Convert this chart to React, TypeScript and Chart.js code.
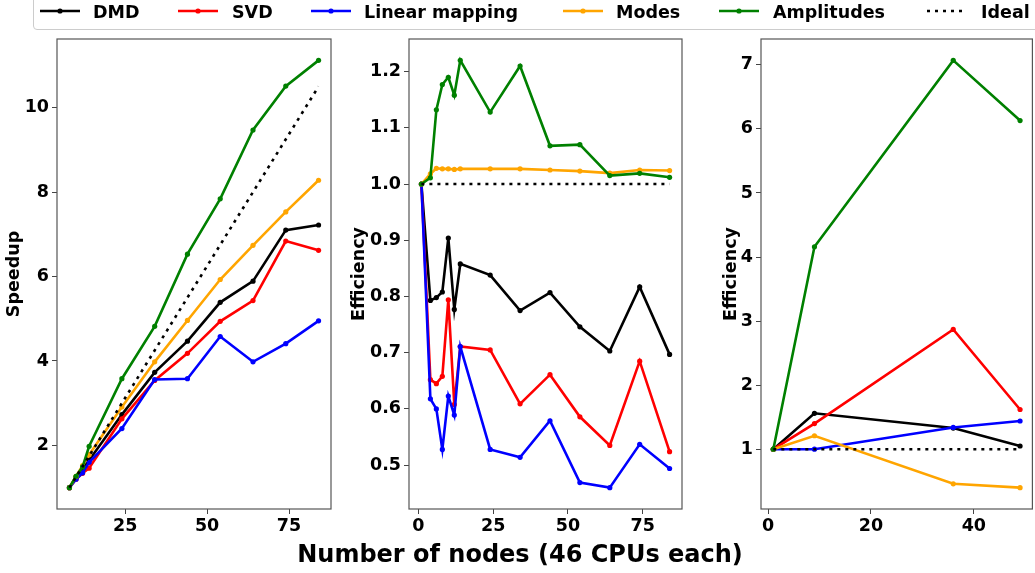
import React, { useEffect, useRef } from "react";
import { Chart, registerables } from "chart.js";

Chart.register(...registerables);

const FONT = "'DejaVu Sans', 'Liberation Sans', sans-serif";

const seriesNames = ["DMD", "SVD", "Linear mapping", "Modes", "Amplitudes"];
const seriesColors = ["#000000", "#ff0000", "#0000ff", "#ffa500", "#008000"];

// Panel 1: speedup
const speedupNodes = [8, 10, 12, 14, 24, 34, 44, 54, 64, 74, 84];
const speedupDMD = [1, 1.25, 1.45, 1.65, 2.73, 3.73, 4.47, 5.39, 5.89, 7.1, 7.22];
const speedupSVD = [1, 1.2, 1.34, 1.46, 2.63, 3.54, 4.18, 4.94, 5.43, 6.84, 6.62];
const speedupLinear = [1, 1.2, 1.35, 1.6, 2.4, 3.56, 3.58, 4.58, 3.98, 4.41, 4.95];
const speedupModes = [1, 1.27, 1.52, 1.78, 2.91, 3.98, 4.96, 5.93, 6.74, 7.53, 8.28];
const speedupAmplitudes = [1, 1.27, 1.49, 1.98, 3.58, 4.82, 6.53, 7.84, 9.47, 10.51, 11.12];
const speedupIdealNodes = [8, 84];
const speedupIdeal = [1, 10.5];
const speedupXTicks = [25, 50, 75];
const speedupYTicks = [2, 4, 6, 8, 10];

// Panel 2: efficiency
const effNodes = [1, 4, 6, 8, 10, 12, 14, 24, 34, 44, 54, 64, 74, 84];
const effDMD = [1, 0.793, 0.798, 0.808, 0.904, 0.777, 0.858, 0.838, 0.775, 0.807, 0.746, 0.703, 0.817, 0.697];
const effSVD = [1, 0.652, 0.645, 0.658, 0.794, 0.608, 0.711, 0.705, 0.609, 0.661, 0.586, 0.535, 0.685, 0.524];
const effLinear = [1, 0.618, 0.6, 0.528, 0.623, 0.589, 0.711, 0.528, 0.514, 0.579, 0.469, 0.46, 0.537, 0.494];
const effModes = [1, 1.018, 1.028, 1.027, 1.027, 1.026, 1.027, 1.027, 1.027, 1.025, 1.023, 1.0195, 1.025, 1.024];
const effAmplitudes = [1, 1.011, 1.132, 1.177, 1.19, 1.158, 1.22, 1.128, 1.21, 1.068, 1.07, 1.015, 1.019, 1.012];
const effIdealNodes = [1, 84];
const effIdeal = [1, 1];
const effXTicks = [0, 25, 50, 75];
const effYTicks = [0.5, 0.6, 0.7, 0.8, 0.9, 1.0, 1.1, 1.2];

// Panel 3: efficiency (second set)
const eff3Nodes = [1, 9, 36, 49];
const eff3DMD = [1, 1.56, 1.33, 1.05];
const eff3SVD = [1, 1.4, 2.87, 1.62];
const eff3Linear = [1, 1.0, 1.34, 1.44];
const eff3Modes = [1, 1.21, 0.46, 0.4];
const eff3Amplitudes = [1, 4.16, 7.07, 6.13];
const eff3IdealNodes = [1, 49];
const eff3Ideal = [1, 1];
const eff3XTicks = [0, 20, 40];
const eff3YTicks = [1, 2, 3, 4, 5, 6, 7];

const xLabel = "Number of nodes (46 CPUs each)";

function padRange(vals: number[]): [number, number] {
  const lo = Math.min(...vals);
  const hi = Math.max(...vals);
  const m = (hi - lo) * 0.05;
  return [lo - m, hi + m];
}

const framePlugin = {
  id: "frame",
  afterDatasetsDraw(chart: any) {
    const { ctx, chartArea } = chart;
    const { left, top, right, bottom } = chartArea;
    ctx.save();
    ctx.strokeStyle = "#555555";
    ctx.lineWidth = 1.2;
    ctx.strokeRect(left, top, right - left, bottom - top);
    ctx.restore();
  },
};

type PanelProps = {
  left: number;
  width: number;
  yAxisWidth: number;
  padRight: number;
  yTitle: string;
  nodes: number[];
  series: number[][];
  idealX: number[];
  idealY: number[];
  xTicks: number[];
  yTicks: number[];
  yDecimals: number;
};

function Panel(p: PanelProps) {
  const ref = useRef<HTMLCanvasElement>(null);
  useEffect(() => {
    if (!ref.current) return;
    const [xmin, xmax] = padRange([...p.nodes, ...p.idealX]);
    const [ymin, ymax] = padRange([...p.series.flat(), ...p.idealY]);
    const datasets: any[] = p.series.map((vals, i) => ({
      label: seriesNames[i],
      data: p.nodes.map((x, j) => ({ x, y: vals[j] })),
      borderColor: seriesColors[i],
      backgroundColor: seriesColors[i],
      borderWidth: 2.6,
      pointRadius: 2.6,
      pointHoverRadius: 2.6,
      pointBorderWidth: 0,
      tension: 0,
      order: 10 - i,
    }));
    datasets.push({
      label: "Ideal",
      data: p.idealX.map((x, j) => ({ x, y: p.idealY[j] })),
      borderColor: "#000000",
      backgroundColor: "#000000",
      borderWidth: 2.6,
      borderDash: [3, 5],
      pointRadius: 0,
      tension: 0,
      order: 0,
    });
    const tickFont = { family: FONT, size: 17.5, weight: "bold" as const };
    const grid = {
      display: true,
      drawOnChartArea: false,
      drawTicks: true,
      tickLength: 5,
      color: "#444444",
      lineWidth: 1,
    };
    const chart = new Chart(ref.current, {
      type: "line",
      data: { datasets },
      options: {
        animation: false,
        responsive: false,
        maintainAspectRatio: false,
        layout: { padding: { top: 39, right: p.padRight, left: 0, bottom: 0 } },
        plugins: { legend: { display: false }, tooltip: { enabled: false } },
        scales: {
          x: {
            type: "linear",
            min: xmin,
            max: xmax,
            afterBuildTicks: (s: any) => {
              s.ticks = p.xTicks.map((v) => ({ value: v }));
            },
            afterFit: (s: any) => {
              s.height = 64;
            },
            grid,
            border: { display: false },
            ticks: {
              font: tickFont,
              color: "#000000",
              padding: 2,
              maxRotation: 0,
              autoSkip: false,
              callback: (v: any) => String(v),
            },
          },
          y: {
            type: "linear",
            min: ymin,
            max: ymax,
            afterBuildTicks: (s: any) => {
              s.ticks = p.yTicks.map((v) => ({ value: v }));
            },
            afterFit: (s: any) => {
              s.width = p.yAxisWidth;
            },
            grid,
            border: { display: false },
            title: {
              display: true,
              text: p.yTitle,
              color: "#000000",
              font: tickFont,
              padding: { top: 4, bottom: 4 },
            },
            ticks: {
              font: tickFont,
              color: "#000000",
              padding: 3,
              autoSkip: false,
              callback: (v: any) => Number(v).toFixed(p.yDecimals),
            },
          },
        },
      },
      plugins: [framePlugin],
    });
    return () => chart.destroy();
  }, []);
  return (
    <canvas
      ref={ref}
      width={p.width}
      height={573}
      style={{ position: "absolute", left: p.left, top: 0, width: p.width, height: 573 }}
    />
  );
}

const legendItems = [
  { name: "DMD", color: "#000000", lineX: 40, textX: 93, dotted: false },
  { name: "SVD", color: "#ff0000", lineX: 178, textX: 232, dotted: false },
  { name: "Linear mapping", color: "#0000ff", lineX: 311, textX: 364, dotted: false },
  { name: "Modes", color: "#ffa500", lineX: 563, textX: 616, dotted: false },
  { name: "Amplitudes", color: "#008000", lineX: 719, textX: 773, dotted: false },
  { name: "Ideal", color: "#000000", lineX: 927, textX: 981, dotted: true },
];

function Legend() {
  return (
    <div>
      <div
        style={{
          position: "absolute",
          left: 33,
          top: -8,
          width: 1020,
          height: 36,
          border: "1px solid #cccccc",
          borderRadius: 4,
          background: "rgba(255,255,255,0.8)",
        }}
      />
      {legendItems.map((it) => (
        <React.Fragment key={it.name}>
          <svg
            width={40}
            height={10}
            style={{ position: "absolute", left: it.lineX, top: 6 }}
          >
            <line
              x1={0}
              y1={5}
              x2={40}
              y2={5}
              stroke={it.color}
              strokeWidth={2.6}
              strokeDasharray={it.dotted ? "3 5" : undefined}
            />
            {!it.dotted && <circle cx={20} cy={5} r={2.6} fill={it.color} />}
          </svg>
          <span
            style={{
              position: "absolute",
              left: it.textX,
              top: 0,
              lineHeight: "24px",
              fontSize: 17.5,
              fontWeight: "bold",
              fontFamily: FONT,
              color: "#000",
              whiteSpace: "nowrap",
            }}
          >
            {it.name}
          </span>
        </React.Fragment>
      ))}
    </div>
  );
}

export default function App() {
  return (
    <div
      style={{
        position: "fixed",
        left: 0,
        top: 0,
        width: 1035,
        height: 573,
        background: "#ffffff",
        overflow: "hidden",
        fontFamily: FONT,
      }}
    >
      <Panel
        left={0}
        width={345}
        yAxisWidth={57}
        padRight={14}
        yTitle="Speedup"
        nodes={speedupNodes}
        series={[speedupDMD, speedupSVD, speedupLinear, speedupModes, speedupAmplitudes]}
        idealX={speedupIdealNodes}
        idealY={speedupIdeal}
        xTicks={speedupXTicks}
        yTicks={speedupYTicks}
        yDecimals={0}
      />
      <Panel
        left={345}
        width={355}
        yAxisWidth={64}
        padRight={18}
        yTitle="Efficiency"
        nodes={effNodes}
        series={[effDMD, effSVD, effLinear, effModes, effAmplitudes]}
        idealX={effIdealNodes}
        idealY={effIdeal}
        xTicks={effXTicks}
        yTicks={effYTicks}
        yDecimals={1}
      />
      <Panel
        left={717}
        width={318}
        yAxisWidth={44}
        padRight={1}
        yTitle="Efficiency"
        nodes={eff3Nodes}
        series={[eff3DMD, eff3SVD, eff3Linear, eff3Modes, eff3Amplitudes]}
        idealX={eff3IdealNodes}
        idealY={eff3Ideal}
        xTicks={eff3XTicks}
        yTicks={eff3YTicks}
        yDecimals={0}
      />
      <Legend />
      <div
        style={{
          position: "absolute",
          left: 0,
          top: 542,
          width: 1040,
          textAlign: "center",
          fontSize: 24,
          lineHeight: "24px",
          fontWeight: "bold",
          fontFamily: FONT,
          color: "#000",
          whiteSpace: "nowrap",
        }}
      >
        {xLabel}
      </div>
    </div>
  );
}
